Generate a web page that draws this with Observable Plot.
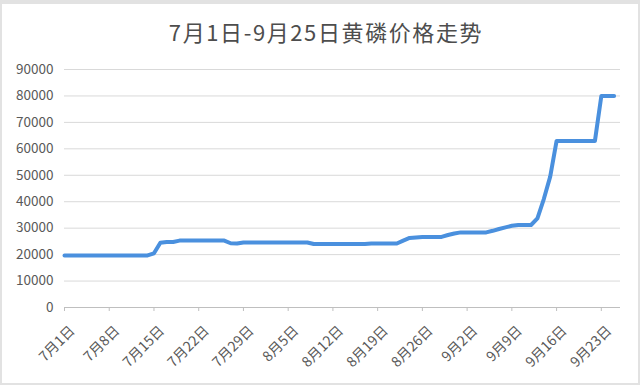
<!DOCTYPE html>
<html>
<head>
<meta charset="utf-8">
<script src="https://cdn.jsdelivr.net/npm/d3@7"></script>
<script src="https://cdn.jsdelivr.net/npm/@observablehq/plot@0.6"></script>
<style>
  html, body { margin: 0; padding: 0; background: #e2e2e2; }
  #wrap { position: relative; width: 640px; height: 385px; overflow: hidden; }
  #frame { position: absolute; left: 2px; top: 4px; width: 636px; height: 379px; background: #ffffff; }
  #title { position: absolute; left: 0; top: 20px; width: 652px; text-align: center;
           font-family: "Noto Sans CJK SC", sans-serif; font-size: 22px; line-height: 22px;
           letter-spacing: 1.6px; color: #4d4d4d; }
  #chart { position: absolute; left: 0; top: 0; }
</style>
</head>
<body>
<div id="wrap">
  <div id="frame"></div>
  <div id="title">7月1日-9月25日黄磷价格走势</div>
  <div id="chart"></div>
</div>
<script>
// Daily prices (元/吨), 7月1日 .. 9月25日
const startDate = "2022-07-01";
const prices = [
  19700, 19700, 19700, 19700, 19700, 19700, 19700, 19700, 19700, 19700, 19700, 19700, 19700, 19700,
  20500, 24500, 24800, 24800,
  25300, 25300, 25300, 25300, 25300, 25300, 25300, 25300,
  24300, 24200,
  24600, 24600, 24600, 24600, 24600, 24600, 24600, 24600, 24600, 24600, 24600,
  24000, 24000, 24000, 24000, 24000, 24000, 24000, 24000, 24000,
  24200, 24200, 24200, 24200, 24200,
  25300, 26300, 26500,
  26700, 26700, 26700, 26700,
  27400, 28000,
  28400, 28400, 28400, 28400, 28400,
  29000, 29700, 30300, 30900,
  31200, 31200, 31200,
  33700, 41000, 49500,
  63000, 63000, 63000, 63000, 63000, 63000, 63000,
  80000, 80000, 80000
];
const tickDates = ["2022-07-01","2022-07-08","2022-07-15","2022-07-22","2022-07-29","2022-08-05","2022-08-12",
                   "2022-08-19","2022-08-26","2022-09-02","2022-09-09","2022-09-16","2022-09-23"];
const tickLabels = ["7月1日","7月8日","7月15日","7月22日","7月29日","8月5日","8月12日",
                    "8月19日","8月26日","9月2日","9月9日","9月16日","9月23日"];
const yTicks = [0, 10000, 20000, 30000, 40000, 50000, 60000, 70000, 80000, 90000];

const t0 = new Date(startDate + "T00:00:00Z");
const data = prices.map((p, i) => ({ date: d3.utcDay.offset(t0, i), price: p }));
const tickDateObjs = tickDates.map(s => new Date(s + "T00:00:00Z"));
const labelMap = new Map(tickDateObjs.map((d, i) => [+d, tickLabels[i]]));
const xEnd = d3.utcDay.offset(t0, 87);

const chart = Plot.plot({
  width: 640,
  height: 385,
  marginTop: 69,
  marginBottom: 78,
  marginLeft: 64,
  marginRight: 20,
  style: { fontFamily: "'Noto Sans CJK SC', sans-serif", fontSize: "13.5px", color: "#595959", background: "transparent" },
  x: { type: "utc", domain: [t0, xEnd] },
  y: { domain: [0, 90000] },
  marks: [
    Plot.gridY(yTicks.filter(v => v > 0), { stroke: "#d9d9d9", strokeOpacity: 1 }),
    Plot.axisY(yTicks, { tickSize: 0, tickPadding: 11, tickFormat: d => String(d), label: null, fill: "#595959" }),
    Plot.ruleY([0], { stroke: "#bfbfbf", strokeWidth: 1 }),
    Plot.axisX(tickDateObjs, { tickSize: 4, stroke: "#bfbfbf", text: null, label: null }),
    Plot.axisX(tickDateObjs, { tickSize: 0, tickRotate: -45, tickPadding: 10,
                               dx: 8, dy: 11, fontSize: 14,
                               tickFormat: d => labelMap.get(+d), label: null, fill: "#595959" }),
    Plot.line(data, { x: "date", y: "price", stroke: "#4a90de", strokeWidth: 4,
                      strokeLinejoin: "round", strokeLinecap: "round" })
  ]
});
document.getElementById("chart").appendChild(chart);
</script>
</body>
</html>
